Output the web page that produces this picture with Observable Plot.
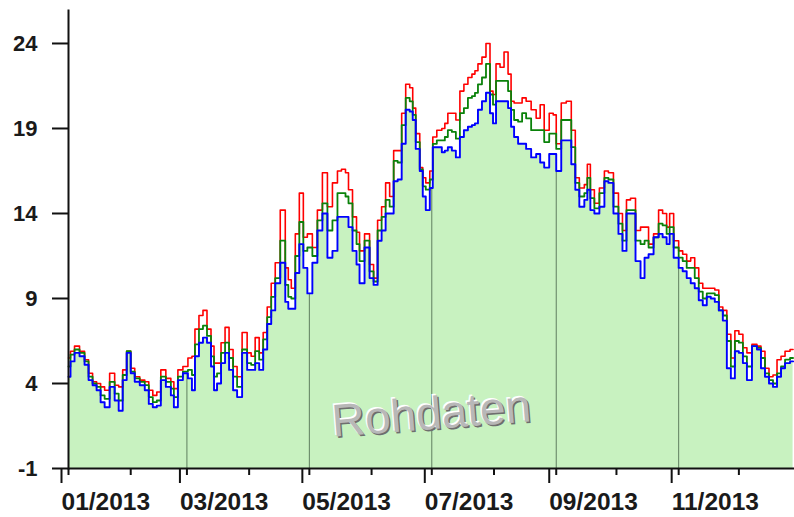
<!DOCTYPE html>
<html><head><meta charset="utf-8">
<script src="https://cdn.jsdelivr.net/npm/d3@7"></script>
<script src="https://cdn.jsdelivr.net/npm/@observablehq/plot@0.6"></script>
<style>html,body{margin:0;padding:0;background:#fff}svg{display:block}</style>
</head><body><div id="chart"></div>
<script>
const dates = ["2013-01-01","2013-01-03","2013-01-05","2013-01-08","2013-01-10","2013-01-12","2013-01-14","2013-01-16","2013-01-18","2013-01-20","2013-01-23","2013-01-25","2013-01-27","2013-01-29","2013-01-31",
"2013-02-02","2013-02-04","2013-02-07","2013-02-09","2013-02-11","2013-02-13","2013-02-15","2013-02-17","2013-02-20","2013-02-22","2013-02-23","2013-02-26","2013-02-28",
"2013-03-03","2013-03-04","2013-03-06","2013-03-08","2013-03-10","2013-03-12","2013-03-14","2013-03-15","2013-03-17","2013-03-19","2013-03-21","2013-03-23","2013-03-25","2013-03-27","2013-03-30",
"2013-04-01","2013-04-03","2013-04-05","2013-04-07","2013-04-09","2013-04-11","2013-04-13","2013-04-15","2013-04-18","2013-04-20","2013-04-21","2013-04-23","2013-04-25","2013-04-27","2013-04-29",
"2013-05-01","2013-05-04","2013-05-06","2013-05-09","2013-05-11","2013-05-14","2013-05-16","2013-05-18","2013-05-20","2013-05-21","2013-05-24","2013-05-25","2013-05-27","2013-05-30",
"2013-06-01","2013-06-03","2013-06-05","2013-06-07","2013-06-09","2013-06-11","2013-06-13","2013-06-15","2013-06-17","2013-06-19","2013-06-21","2013-06-22","2013-06-24","2013-06-26","2013-06-27","2013-06-29",
"2013-07-01","2013-07-02","2013-07-05","2013-07-07","2013-07-08","2013-07-10","2013-07-12","2013-07-14","2013-07-16","2013-07-18","2013-07-20","2013-07-22","2013-07-23","2013-07-25","2013-07-27","2013-07-29","2013-07-31",
"2013-08-01","2013-08-03","2013-08-05","2013-08-07","2013-08-09","2013-08-10","2013-08-12","2013-08-14","2013-08-16","2013-08-18","2013-08-21","2013-08-23","2013-08-25","2013-08-27","2013-08-30","2013-08-31",
"2013-09-02","2013-09-05","2013-09-07","2013-09-10","2013-09-11","2013-09-14","2013-09-16","2013-09-17","2013-09-19","2013-09-21","2013-09-24","2013-09-26","2013-09-28",
"2013-10-01","2013-10-03","2013-10-05","2013-10-07","2013-10-09","2013-10-12","2013-10-14","2013-10-16","2013-10-18","2013-10-21","2013-10-23","2013-10-25","2013-10-27","2013-10-28","2013-10-31",
"2013-11-02","2013-11-04","2013-11-06","2013-11-08","2013-11-10","2013-11-12","2013-11-14","2013-11-16","2013-11-18","2013-11-20","2013-11-22","2013-11-24","2013-11-26","2013-11-28","2013-11-30",
"2013-12-02","2013-12-04","2013-12-06","2013-12-09","2013-12-11","2013-12-13","2013-12-15","2013-12-17","2013-12-19","2013-12-21","2013-12-23","2013-12-25","2013-12-28"];

const red = [5.5,5.9,6.2,5.9,5.4,4.6,4.1,4.0,3.8,3.6,4.6,3.9,3.8,4.8,5.9,
4.9,4.4,4.2,4.1,3.6,3.3,3.5,4.8,4.3,4.1,3.7,4.8,5.0,
5.5,5.6,7.2,8.0,8.3,7.2,6.2,5.2,5.2,6.4,7.3,6.0,5.0,4.4,7.0,
5.8,5.6,6.7,5.8,7.0,8.5,9.9,11.1,14.2,10.8,10.1,9.6,12.8,15.2,12.6,
12.8,12.0,14.2,16.4,14.4,15.8,16.5,16.6,16.4,15.4,13.8,12.9,11.8,12.8,
11.0,10.2,13.6,14.4,15.8,15.0,17.7,17.7,19.9,21.6,21.4,20.2,18.7,16.7,16.1,15.8,
16.5,18.5,18.9,19.0,19.3,19.9,19.9,19.5,21.2,21.6,22.0,22.2,22.4,22.8,23.2,24.0,21.2,
21.0,22.8,22.6,23.5,22.2,20.6,20.5,20.5,20.8,20.6,20.1,19.6,20.4,18.9,19.9,19.8,
18.1,20.5,20.6,18.9,16.1,15.5,15.7,16.9,15.4,14.6,15.5,16.5,16.4,
15.2,14.0,13.0,14.8,14.9,13.0,13.2,13.2,12.2,12.8,14.2,14.0,13.2,14.0,12.4,
11.8,11.6,11.2,11.4,10.8,9.9,9.6,9.6,9.6,9.5,8.5,8.3,6.9,5.5,7.1,
6.9,6.1,5.8,6.3,6.2,5.9,4.9,4.4,4.5,5.4,5.6,5.9,6.0];

const green = [5.0,5.7,6.0,5.8,5.3,4.4,4.0,3.8,3.3,3.1,4.1,3.4,3.0,4.5,5.9,
4.7,4.3,4.1,3.9,3.2,2.9,3.0,4.4,4.1,3.7,3.2,4.4,4.7,
4.8,4.5,6.3,7.2,7.4,6.8,5.6,4.4,4.6,5.8,6.4,5.5,4.4,3.8,6.0,
5.2,5.1,5.9,5.4,6.6,7.9,9.1,10.2,12.4,9.8,9.1,9.0,11.5,13.5,11.8,
12.0,11.5,13.6,14.6,13.0,13.6,15.2,15.2,15.0,14.6,13.0,12.2,11.2,12.4,
10.6,10.0,13.0,13.8,14.8,14.4,17.1,17.0,19.2,20.8,20.6,19.8,18.2,16.6,15.6,15.4,
16.0,18.1,18.3,18.3,18.5,18.9,18.8,18.4,19.9,20.2,20.8,20.9,21.1,21.6,22.0,22.8,21.0,
20.4,21.8,21.8,21.8,21.2,20.1,19.5,19.4,19.9,19.6,18.9,18.9,18.9,18.2,18.7,18.7,
17.8,19.5,19.5,17.9,15.8,15.0,15.2,16.1,14.9,14.3,15.2,16.1,16.0,
14.4,13.4,12.4,14.2,14.2,12.4,12.2,12.4,12.0,12.6,13.4,13.3,12.8,13.2,12.0,
11.4,11.2,10.8,10.8,10.2,9.4,9.0,9.3,9.3,9.2,8.3,8.0,6.5,5.0,6.5,
6.4,5.6,5.0,6.2,6.1,5.5,4.6,4.2,4.0,4.6,5.0,5.4,5.5];

const blue = [4.4,5.3,5.8,5.6,5.1,4.2,3.9,3.6,2.9,2.6,3.8,3.0,2.4,4.2,5.8,
4.6,4.1,3.9,3.6,2.8,2.6,2.7,4.2,3.8,3.3,2.6,4.2,4.6,
4.3,3.6,5.6,6.4,6.7,6.4,5.0,3.6,4.0,5.2,5.8,4.8,3.6,3.2,5.8,
4.8,4.8,5.2,4.8,6.0,7.5,8.3,9.9,11.1,8.8,8.4,8.4,10.5,12.2,10.8,
9.3,11.1,13.0,14.0,11.4,11.8,13.8,13.8,13.8,13.2,11.8,11.0,9.9,12.0,
10.2,9.8,12.4,13.0,14.0,14.0,15.9,16.0,18.1,20.1,20.0,19.5,17.8,16.5,15.0,14.2,
15.5,17.9,17.9,17.6,17.7,17.9,17.7,17.3,18.5,18.9,19.1,19.2,19.3,20.1,20.6,21.1,19.9,
19.3,20.6,20.6,20.6,20.2,19.1,18.5,18.1,18.1,17.8,17.3,17.5,17.0,16.7,17.5,17.5,
16.5,18.3,18.3,16.9,15.4,14.4,14.8,15.4,14.2,14.0,14.4,15.9,15.8,
14.0,12.8,11.8,14.0,14.0,11.2,10.2,11.4,11.6,12.6,12.8,12.6,12.2,12.8,11.4,
10.8,10.6,10.2,9.9,9.6,8.9,8.6,9.1,9.0,8.8,8.3,7.7,4.9,4.3,5.9,
5.8,5.2,4.2,6.2,6.0,4.9,4.4,4.0,3.8,4.4,4.9,5.2,5.3];

const yTicks = [-1, 4, 9, 14, 19, 24];
const monthTicks = ["2013-01-01","2013-02-01","2013-03-01","2013-04-01","2013-05-01","2013-06-01","2013-07-01","2013-08-01","2013-09-01","2013-10-01","2013-11-01","2013-12-01"];
const labeledMonths = ["2013-01-01","2013-03-01","2013-05-01","2013-07-01","2013-09-01","2013-11-01"];
const gridMonths = ["2013-03-01","2013-05-01","2013-07-01","2013-09-01","2013-11-01"];
const xDomain = ["2013-01-01T00:00:00Z", "2013-12-28T17:00:00Z"];
const yDomain = [-1, 25.94];
const watermark = "Rohdaten";

const parse = d3.utcParse("%Y-%m-%d");
const rows = dates.map((d, i) => ({date: parse(d), red: red[i], green: green[i], blue: blue[i]}));
const grid = gridMonths.map(m => {
  const t = parse(m);
  let v = rows[0].blue;
  for (const r of rows) { if (r.date <= t) v = r.blue; }
  return {date: t, top: v};
});

const font = "'Liberation Sans', Arial, sans-serif";

const chart = Plot.plot({
  width: 794,
  height: 517,
  marginLeft: 68,
  marginRight: 0,
  marginTop: 10,
  marginBottom: 49,
  style: {fontFamily: font, background: "#fff", overflow: "hidden"},
  x: {type: "utc", domain: xDomain.map(d => new Date(d))},
  y: {domain: yDomain},
  marks: [
    Plot.areaY(rows, {x: "date", y1: -1, y2: "blue", fill: "#c8f2c0", curve: "step"}),
    Plot.ruleX(grid, {x: "date", y1: -1, y2: "top", stroke: "#5f7f5f", strokeWidth: 1}),
    Plot.text([watermark], {frameAnchor: "bottom", dy: -38, dx: 2.5, text: d => d, fontSize: 46, fill: "#6e6e6e", rotate: -4.5, fontFamily: font}),
    Plot.text([watermark], {frameAnchor: "bottom", dy: -41, dx: -0.5, text: d => d, fontSize: 46, fill: "#ffffff", rotate: -4.5, fontFamily: font}),
    Plot.text([watermark], {frameAnchor: "bottom", dy: -39.5, dx: 1, text: d => d, fontSize: 46, fill: "#b8b8b8", rotate: -4.5, fontFamily: font}),
    Plot.line(rows, {x: "date", y: "red", stroke: "#ff0000", strokeWidth: 1.6, curve: "step"}),
    Plot.line(rows, {x: "date", y: "green", stroke: "#0a820a", strokeWidth: 1.8, curve: "step"}),
    Plot.line(rows, {x: "date", y: "blue", stroke: "#0000ff", strokeWidth: 1.9, curve: "step"}),
    Plot.frame({anchor: "left", stroke: "#111", strokeWidth: 2}),
    Plot.ruleY([-1], {stroke: "#111", strokeWidth: 2}),
    Plot.axisY({ticks: yTicks, tickSize: 16, tickPadding: 15, fontSize: 22, fontWeight: "bold", fill: "#1a1a1a", stroke: "#111", strokeWidth: 2, label: null, tickFormat: d => String(d)}),
    Plot.axisX({ticks: monthTicks.map(parse), tickSize: 7, strokeWidth: 2, stroke: "#111", tickFormat: () => "", label: null}),
    Plot.axisX({ticks: labeledMonths.map(parse), tickSize: 15, tickPadding: 9, strokeWidth: 2, stroke: "#111", fontSize: 24.5, fontWeight: "bold", fill: "#1a1a1a", textAnchor: "start", dx: -7, tickFormat: d3.utcFormat("%m/%Y"), label: null})
  ]
});
document.getElementById("chart").appendChild(chart);
</script>
</body></html>
